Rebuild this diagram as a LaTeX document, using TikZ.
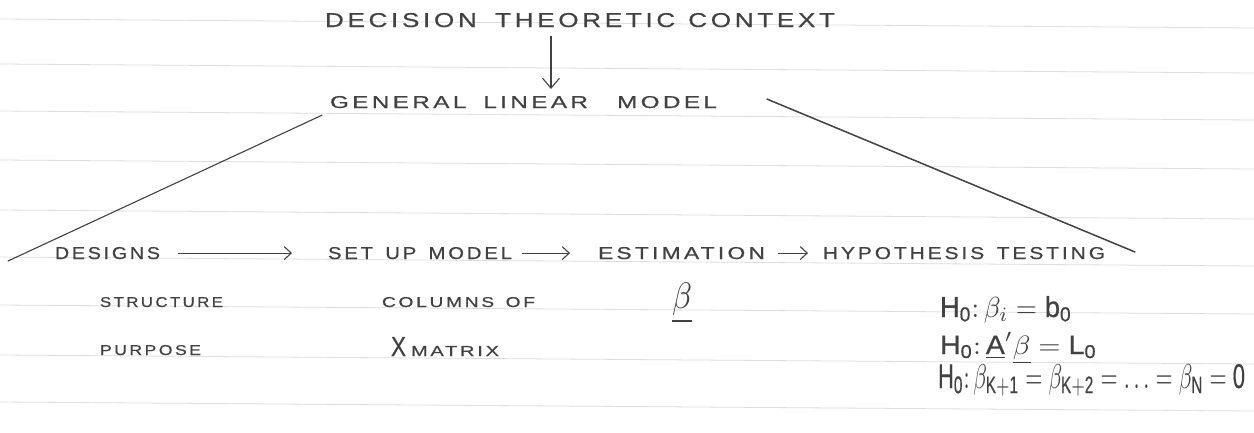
\documentclass[tikz,border=0pt]{standalone}
\usepackage{graphicx}
\usepackage{fontspec}
\usetikzlibrary{arrows.meta}
\newfontfamily\handfont[LetterSpace=14,FakeBold=0.5]{Liberation Sans}
\setsansfont[FakeBold=0.5]{Liberation Sans}
\definecolor{pencil}{RGB}{66,66,66}
\definecolor{rulecol}{RGB}{222,222,222}
\newcommand{\hw}[3]{\resizebox{#1pt}{#2pt}{#3}}
\tikzset{
  hand/.style={inner sep=0pt, outer sep=0pt, anchor=base west, text=pencil, font=\handfont},
  pline/.style={draw=pencil, line width=1.1pt, line cap=round},
  harrow/.style={draw=pencil, line width=1.1pt, -{Straight Barb[length=7pt,width=13pt,line width=1.1pt]}},
  varrow/.style={draw=pencil, line width=1.1pt, -{Straight Barb[length=10pt,width=17pt,line width=1.1pt]}},
  paperrule/.style={draw=rulecol, line width=0.8pt}
}
\begin{document}
\begin{tikzpicture}[x=1pt,y=-1pt]
\path[use as bounding box, fill=white] (0,0) rectangle (1254,432);
% ruled paper
\foreach \yy in {19,64,111,160,210,257,305,355,402}
  \draw[paperrule] (0,\yy) -- (1254,\yy+9);

% headings
\node[hand] (title) at (325,27) {\hw{510}{14}{DECISION\hspace{0.7em}THEORETIC\hspace{0.5em}CONTEXT}};
\node[hand] (glm) at (330,108) {\hw{387}{12}{GENERAL\hspace{0.7em}LINEAR\hspace{1.2em}MODEL}};

% main row
\node[hand] (designs) at (55,259) {\hw{105}{12}{DESIGNS}};
\node[hand] (setup) at (328,259) {\hw{184}{12}{SET\hspace{0.6em}UP\hspace{0.6em}MODEL}};
\node[hand] (estim) at (598,259) {\hw{167}{12}{ESTIMATION}};
\node[hand] (hypo) at (823,259) {\hw{282}{12}{HYPOTHESIS\hspace{0.6em}TESTING}};

% sub labels
\node[hand] (structure) at (100,307) {\hw{123}{10}{STRUCTURE}};
\node[hand] (purpose) at (100,355) {\hw{101}{10}{PURPOSE}};
\node[hand] (columns) at (382,307) {\hw{153}{10}{COLUMNS\hspace{0.6em}OF}};
\node[hand] (xmat) at (391,356) {\hw{15}{19}{X}\hspace{5pt}\hw{88}{10}{MATRIX}};
\node[hand, anchor=north west] (beta) at (672,283) {\resizebox*{20pt}{40pt}{$\underline{\beta}$}};

% hypotheses
\node[hand] (h1) at (940,317) {\resizebox{132pt}{21pt}{$\mathsf{H}_{\mathsf{0}}\colon \beta_i = \mathsf{b}_{\mathsf{0}}$}};
\node[hand] (h2) at (940,354) {\resizebox{157pt}{22pt}{$\mathsf{H}_{\mathsf{0}}\colon \underline{\mathsf{A}}'\underline{\beta} = \mathsf{L}_{\mathsf{0}}$}};
\node[hand] (h3) at (938,388) {\resizebox{307pt}{24pt}{$\mathsf{H}_{\mathsf{0}}\colon \beta_{\mathsf{K+1}} = \beta_{\mathsf{K+2}} = \dots = \beta_{\mathsf{N}} = \mathsf{0}$}};

% connectors
\coordinate (a1) at (551,36);
\draw[varrow] (a1) -- ([yshift=7pt]a1 |- glm.north);
\coordinate (lfree) at (8,261);
\draw[pline] (lfree) -- ([shift={(-8pt,-7pt)}]glm.south west);
\coordinate (rfree) at (1135,252);
\draw[pline, line width=1.5pt] ([shift={(50pt,3pt)}]glm.east) -- (rfree);
\draw[harrow] ([xshift=18pt]designs.east) -- ([xshift=-36pt]setup.west);
\draw[harrow] ([xshift=10pt]setup.east) -- ([xshift=-28pt]estim.west);
\draw[harrow] ([xshift=13pt]estim.east) -- ([xshift=-15pt]hypo.west);
\end{tikzpicture}
\end{document}
